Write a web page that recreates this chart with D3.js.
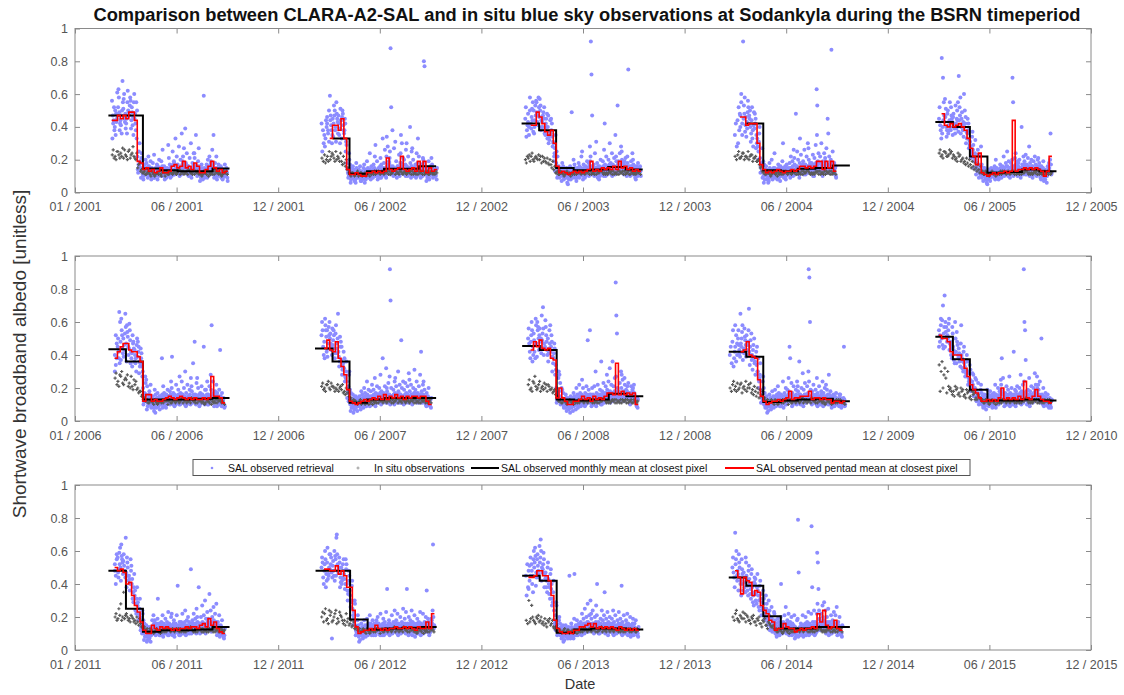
<!DOCTYPE html>
<html>
<head>
<meta charset="utf-8">
<script src="https://cdn.jsdelivr.net/npm/d3@7"></script>
<style>
  body { margin: 0; background: #fff; }
  svg { display: block; font-family: "Liberation Sans", Arial, Helvetica, sans-serif; }
</style>
</head>
<body>
<svg id="chart" width="1124" height="695"></svg>
<script>
// ---------------------------------------------------------------------------
// Sodankyla, BSRN period: CLARA-A2-SAL retrievals vs. in situ blue-sky albedo.
// All albedo values below are given in hundredths (45 -> 0.45).
// Pentad k of a year covers day-of-year 5k .. 5k+5 (k starts at 0).
// ---------------------------------------------------------------------------

const panelStartYears = [2001, 2006, 2011];
const seasonYears = [2001, 2002, 2003, 2004, 2005, 2006, 2007, 2008, 2009, 2010, 2011, 2012, 2013, 2014];

// SAL observed monthly mean at closest pixel (first month of each season, 1 = Jan)
const monthFirst = [3, 4, 3, 4, 3, 3, 3, 3, 3, 3, 3, 3, 3, 3];
const monthlyMeans = [
  [47, 47, 14.7, 13.5, 13, 13, 14.7],
  [33, 11.5, 13, 14.5, 14.5, 16],
  [42, 38, 15, 13.5, 14, 15.5, 14],
  [42, 13.5, 13, 14.5, 15, 16.5],
  [43, 40, 22, 12, 12.5, 14, 13],
  [43.5, 36, 13, 13, 13, 13.5, 14],
  [44, 36, 11, 13, 14, 14, 14],
  [45.5, 43, 13, 12.5, 13, 16.5, 15],
  [42, 39, 11.5, 12.5, 13, 13.5, 12],
  [51, 37.5, 19, 12.5, 12.5, 13, 12.5],
  [48, 25, 11, 12, 12, 12.5, 14],
  [48, 48, 18.5, 12.5, 13, 13.5, 14],
  [45, 42, 10.5, 12.5, 13, 13, 12.5],
  [44, 39, 20.5, 13, 13, 14, 14]
];

// SAL observed pentad mean at closest pixel (first pentad index of each season)
const pentadFirst = [13, 17, 15, 16, 14, 14, 15, 15, 16, 13, 14, 15, 14, 14];
const pentadMeans = [
  [44,44,47,45,47,45,49,49,44,19,18,14,15,13,14,12,13,15,12,12,13,16,17,15,16,19,15,16,14,18,16,12,12,14,16,19,15,13,14,12,13],
  [33,41,41,38,45,33,14,11,11,12,11,10,10,12,12,13,12,13,12,13,21,14,13,14,15,22,14,13,14,15,13,19,13,19,12,15,13,14],
  [41,41,49,46,42,37,35,38,30,16,12,13,12,11,12,13,12,13,12,13,14,19,13,14,13,15,14,15,14,16,14,19,15,16,14,15,13,14,13],
  [46,46,41,42,42,42,30,17,14,12,13,12,13,14,13,12,13,13,14,13,14,16,16,15,16,15,16,19,19,14,19,15,19,13],
  [48,41,40,42,40,41,42,40,38,33,27,22,17,24,12,11,10,11,12,11,12,12,13,12,13,44,13,14,14,15,14,15,14,15,14,13,10,13,22],
  [38,42,45,47,47,43,42,42,39,36,12,16,16,12,13,12,12,13,14,15,14,13,14,15,14,13,14,13,14,13,13,14,13,14,27,15,15,14,11],
  [44,49,43,42,48,38,33,28,19,12,11,10,11,12,13,12,13,14,13,15,13,16,13,15,14,16,14,15,13,15,14,15,15,14,15,15,12,10],
  [43,48,45,49,44,43,44,38,37,14,20,14,12,10,10,12,12,13,15,13,14,12,15,13,14,13,15,17,17,16,35,16,18,16,17,16,17,10],
  [42,43,48,40,39,38,25,15,12,10,11,12,12,13,12,13,14,18,13,14,14,15,15,15,18,13,14,14,13,14,13,13,11,12,12,11,12],
  [52,50,50,48,42,40,40,40,37,32,27,22,19,17,14,12,12,13,12,13,12,14,20,13,14,13,14,13,15,13,24,14,13,15,19,15,13,12,12,11],
  [50,48,49,47,40,41,33,27,23,17,12,10,10,15,13,12,14,13,14,13,12,13,12,13,13,14,13,14,14,13,15,16,14,19,15,17,13,11,10],
  [49,49,48,48,51,46,48,45,38,38,24,14,10,11,12,12,13,12,15,13,12,13,12,13,13,14,13,13,14,13,14,13,12,14,13,13,17,13,22],
  [44,44,45,48,48,45,45,42,33,18,13,11,10,10,11,10,12,12,14,14,15,16,14,16,13,14,13,14,13,14,13,12,14,13,12,13,12,13,12],
  [48,44,34,44,42,41,33,36,35,27,24,22,18,17,12,13,13,16,14,13,13,11,12,13,12,13,13,14,13,22,17,24,15,13,14,18,13,12]
];

// First pentad holding retrievals / in situ observations in each season
const scatterFirst = [13, 14, 13, 14, 13, 14, 14, 14, 12, 13, 14, 14, 13, 13];

// SAL observed retrievals, one string of values per pentad
const sal2001 = ["56 42 38 47 52 33 44","40 48 61 35 45 50 43","47 58 42 63 38 52 49","44 36 55 47 68 41 50","51 45 39 60 48 57 43","42 55 47 36 50 45 62","49 58 44 53 39 47 56","52 46 60 41 55 49 35","45 38 50 42 33 48 55","22 17 30 14 25 19 12 16","15 21 12 18 24 11 9 14","13 10 17 14 20 8 12 15 11","12 18 15 9 22 14 11 13 16","11 15 13 19 8 16 12 10 14","14 10 18 12 23 15 11 13 9","9 12 15 11 17 13 10 14 12","13 16 10 20 12 8 14 11 15","15 11 19 14 26 13 12 10 16","10 13 16 8 14 12 11 15 13","12 9 15 11 29 13 14 10 12","14 11 17 9 13 21 12 15 10","16 12 25 14 19 10 13 17 11","18 13 33 15 22 11 14 16 12","14 17 12 28 10 16 13 15 11","15 20 11 36 17 13 12 14 16","19 14 27 16 39 22 12 15 13","13 17 24 11 15 18 14 12 16","16 12 21 14 30 10 13 15 11","11 15 18 13 24 9 12 14 16","17 21 13 35 16 24 14 12 15","15 12 19 27 14 10 13 16 11","11 14 9 17 12 7 13 10 15","10 13 59 15 11 8 12 14 9","14 11 17 9 20 13 12 15 10","16 12 22 14 18 10 13 15 11","19 15 26 13 35 17 14 12 16","14 11 18 12 22 9 13 15 10","12 15 10 17 13 8 11 14 12","14 11 16 9 13 12 10 15 11","12 9 14 11 17 8 13 10 12","13 10 15 12 7 11 12 14 9"];
const sal2002 = ["42 30 38 25","35 44 28 40 33","46 38 31 42 36 50","59 41 35 47 30 44 38","45 53 38 42 50 34 47","40 48 36 55 43 31 45","47 39 44 35 51 42 30","44 50 38 46 41 33 48","36 42 29 45 31 38 25","18 12 24 15 9 20 14 11","10 13 8 15 11 17 6 12 9","12 9 14 7 11 16 10 13 11","8 12 15 10 13 6 18 11 9","11 14 9 16 7 12 10 13 12","10 13 8 12 15 7 11 9 12","9 12 14 8 11 17 6 10 13","13 10 15 9 12 19 11 14 12","11 14 8 16 10 24 12 13 9","12 9 17 13 22 10 14 11 15","14 10 12 19 8 29 11 13 12","10 15 13 9 21 12 11 14 16","12 17 10 33 14 9 13 11 15","15 11 26 13 9 18 12 14 10","22 16 28 13 19 34 15 12 17","18 25 88 52 14 21 11 16 13","13 16 10 27 12 38 15 11 14","14 11 19 9 16 31 12 13 15","16 12 23 10 18 14 13 11 15","24 18 30 15 21 35 12 16 14","15 20 11 17 26 13 12 14 10","12 16 10 22 14 30 13 11 15","14 11 18 9 25 13 40 12 16","16 12 20 10 15 27 13 11 14","13 17 9 24 12 15 11 14 10","18 14 22 11 16 33 13 15 12","14 11 17 13 21 9 12 15 10","20 80 77 15 12 18 13 11 16","11 15 9 13 19 7 12 14 10","14 10 16 12 21 8 13 11 15","12 15 9 13 10 17 11 14 12","13 10 15 11 8 12 14"];
const sal2003 = ["45 38 52 41 34","48 40 58 43 35 50","42 51 37 46 55 39 44","50 44 56 40 47 36 53","55 47 52 43 58 49 41","46 53 40 50 44 57 38","43 49 36 47 52 40 45","38 45 33 42 48 35 40","40 34 44 30 37 47 32","36 42 31 38 28 45 34","30 24 35 19 27 16 22 13","18 13 22 10 16 25 9 14 11","12 9 15 11 7 14 10 13 12","13 10 16 8 12 18 11 14 9","11 14 9 15 6 12 10 13 12","10 13 8 12 16 5 11 14 9","12 15 49 10 14 8 11 13 9","14 11 17 9 13 20 12 15 10","12 9 15 11 18 7 13 10 14","13 16 10 14 22 9 12 11 15","11 14 8 17 12 25 13 10 15","13 10 16 12 19 9 11 14 12","15 12 18 11 28 14 13 10 16","19 92 72 47 14 22 11 16 13","13 17 10 24 12 16 11 14 15","14 11 18 9 15 31 12 13 16","12 16 10 20 13 8 14 11 15","15 12 19 11 26 14 13 16 10","13 17 10 22 15 42 12 14 11","16 12 20 14 30 11 13 15 17","14 18 11 24 13 17 12 15 10","17 13 21 15 35 12 14 16 11","15 19 12 53 16 22 13 14 17","19 14 24 16 28 12 15 13 17","16 20 13 18 11 25 14 15 12","17 13 21 15 10 19 14 12 16","14 18 75 12 16 22 13 15 11","15 12 19 14 24 10 13 16 11","13 17 11 15 9 20 12 14 16","14 11 16 13 18 8 12 15 10","12 15 10 14 13 11 16"];
const sal2004 = ["35 28 42","44 38 30 48 52","40 55 35 47 60 42","92 48 41 53 37 45 58","46 39 52 43 56 34 49","42 50 36 45 31 47 40","44 38 49 33 41 52 28","39 45 30 42 35 48 27","33 25 40 20 36 28 31","21 15 27 12 18 9 16 13","14 10 17 8 12 19 6 13 11","11 14 8 12 6 16 10 13 12","12 9 15 10 13 7 18 11 14","10 13 8 14 11 20 12 9 15","12 15 9 13 10 24 11 14 12","14 11 17 9 13 8 12 15 10","12 16 10 14 19 7 13 11 15","11 14 9 13 16 30 12 10 15","13 10 17 12 15 8 14 11 12","14 11 18 9 22 13 12 15 10","15 12 19 10 26 14 13 16 11","13 17 11 48 15 21 14 12 16","16 12 20 14 9 25 13 15 11","18 14 23 12 17 33 15 13 16","15 19 11 26 16 13 14 17 12","17 13 22 15 30 11 14 16 12","16 20 12 18 14 27 15 13 17","14 18 11 23 15 12 16 13 10","17 21 13 29 16 10 15 14 18","63 53 19 24 14 35 17 15 13","18 22 14 30 16 12 15 17 13","15 19 12 24 17 10 14 16 13","21 16 27 13 45 19 15 17 12","17 14 22 12 19 36 15 13 16","20 87 15 25 12 18 14 16 13","14 18 11 16 9 13 12 15 10"];
const sal2005 = ["45 38 52 33 41","82 70 47 40 55 36 44","43 51 38 46 34 57 40","48 41 55 36 44 50 38","40 47 35 52 43 38 45","46 39 53 42 36 48 41","42 50 37 45 55 39 44","71 47 40 52 36 44 58","45 38 60 41 34 49 43","40 46 33 42 37 50 30","36 42 29 38 32 45 27","31 25 37 21 34 28 23","26 19 32 15 24 29 21","20 14 26 11 18 23 16 13","17 12 22 9 15 28 13 11","12 9 15 7 11 17 10 13 11","10 13 8 12 6 15 11 9 12","11 8 14 9 12 5 10 13 9","12 9 15 10 13 7 11 14 10","10 14 11 16 8 13 12 9 15","13 10 15 12 9 20 11 14 12","11 14 9 17 12 8 13 10 15","14 10 16 12 22 9 13 11 15","12 15 11 18 13 10 14 12 16","13 16 10 19 14 25 12 11 15","15 11 18 13 20 9 12 14 16","70 55 16 12 21 14 10 13 15","14 17 11 19 13 24 12 15 10","16 12 20 14 9 18 13 15 11","13 40 17 11 22 15 12 14 16","15 19 12 23 14 17 13 11 16","17 13 21 15 28 11 14 16 12","14 18 12 20 16 10 13 15 11","16 12 19 14 22 9 13 15 11","13 17 11 15 20 12 14 10 16","15 11 18 13 9 21 12 14 16","12 16 10 14 19 8 13 11 15","11 9 14 10 13 7 12 8 10","13 10 16 12 18 6 11 14 12","15 36 12 20 11 13 17"];
const sal2006 = ["40 34 47 30 52 38","45 38 60 42 35 50 66","48 55 41 62 44 37 52","50 43 57 46 65 39 53","47 54 40 58 45 36 51","44 49 38 55 42 59 35","41 47 36 52 44 33 48","43 38 50 35 46 40 30","39 45 33 42 36 48 29","35 41 30 38 27 44 33","20 14 27 10 17 23 12 15","16 12 21 9 14 25 7 11 13","14 18 11 22 8 16 12 10 15","12 9 15 11 6 14 10 13 8","13 10 16 8 12 19 5 11 14","11 14 9 13 7 17 12 10 15","12 15 10 38 8 13 11 14 16","14 11 17 9 13 21 12 15 10","13 16 10 19 12 8 14 11 15","15 12 18 11 24 14 13 10 16","14 39 11 17 13 20 12 15 10","12 16 10 22 14 9 13 11 15","15 12 19 13 27 11 14 16 10","13 17 11 24 15 10 12 14 16","16 12 20 14 30 11 13 15 10","13 17 10 22 15 9 12 14 11","15 12 19 13 26 11 14 16 10","14 18 11 35 16 21 13 12 15","13 48 16 10 23 14 12 15 11","15 12 20 14 9 26 13 11 16","13 17 11 21 15 10 12 14 16","16 12 45 14 19 11 13 15 10","14 19 11 24 15 12 13 16 10","16 12 21 14 28 10 13 15 11","19 58 14 24 16 12 13 15 17","15 11 18 13 22 9 12 14 16","13 17 11 15 19 9 12 14 10","12 43 15 10 17 13 11 14 9","11 14 9 13 8 12 10"];
const sal2007 = ["52 45 60 40 55","48 58 42 62 51 38 55","55 47 60 44 52 39 57","50 43 56 47 40 53 45","46 52 41 55 38 49 44","53 47 65 44 50 58 41","42 36 48 33 45 39 51","37 31 42 28 35 45 33","32 27 36 24 30 38 26","24 18 28 14 21 30 17 12","14 10 17 8 12 19 6 11 13","12 9 14 7 11 16 5 10 13","11 8 13 6 10 15 9 12 10","12 9 15 10 7 14 11 13 9","13 10 16 11 8 18 12 14 10","14 11 17 12 9 20 13 15 10","13 16 10 19 12 24 11 14 15","14 11 18 12 22 9 13 15 10","15 12 19 13 26 10 14 16 11","14 17 11 21 13 9 12 15 16","16 13 20 14 28 11 15 12 17","14 18 11 38 15 10 13 16 12","17 13 21 15 32 12 14 16 11","14 18 11 23 15 20 13 16 12","16 92 73 20 14 27 10 13 15","15 12 19 13 24 11 14 16 10","17 13 21 15 11 26 14 12 16","14 18 12 22 16 30 13 15 11","16 49 20 13 24 11 14 15 12","15 19 12 23 14 10 13 16 11","17 13 21 15 29 12 14 16 11","14 18 11 22 16 25 13 15 12","16 12 20 14 31 10 13 15 17","15 19 13 24 11 17 14 12 16","17 13 21 15 28 12 14 16 11","14 42 18 11 22 16 13 15 12","16 12 19 14 10 24 13 15 11","13 17 11 15 20 9 12 14 10","12 9 14 11 8 10 13"];
const sal2008 = ["50 42 56 38 47","48 55 40 60 45 52 36","53 46 58 42 62 49 38","47 55 43 60 50 39 57","52 45 64 48 41 56 50","49 56 44 69 47 53 40","45 52 40 57 43 61 48","50 44 58 41 47 36 55","42 48 35 52 39 45 30","38 44 31 47 34 41 28","20 14 26 11 17 30 13 16","18 23 13 28 10 20 15 12","14 10 17 8 12 19 11 13 9","11 8 14 6 12 9 16 10 13","9 12 7 11 5 14 10 8 13","10 13 8 12 6 15 11 9 14","12 9 15 11 7 17 10 13 14","13 10 16 8 12 20 11 14 9","14 11 17 9 13 22 12 15 10","16 12 20 14 10 25 13 15 11","13 17 10 21 15 9 12 14 16","15 11 19 13 55 49 12 14 16","12 16 9 20 14 11 13 10 15","16 12 21 14 30 10 13 15 11","13 17 11 22 15 9 14 12 16","15 11 19 14 36 12 13 16 10","14 18 12 23 16 10 15 13 17","16 12 21 15 28 11 14 17 13","19 14 24 17 32 12 15 16 13","18 13 22 16 36 11 15 17 14","17 21 14 26 15 12 16 18 13","84 64 53 20 16 27 13 15 18","18 14 23 16 30 12 15 17 13","20 15 25 17 12 28 16 14 18","17 22 13 19 15 26 16 14 18","18 14 23 16 11 21 15 17 13","17 13 21 15 19 10 16 14 12","18 14 22 16 12 20 15 17 13","11 9 13 10 8 12 14"];
const sal2009 = ["40 35 45","48 38 55 42 33","45 52 40 58 36 47","50 43 65 46 39 55 41","47 54 42 50 37 45 58","44 51 39 56 46 41 49","52 46 68 43 55 40 48","42 49 37 45 53 34 40","40 46 35 43 50 31 38","36 42 30 39 45 28 34","30 24 35 20 28 38 26","19 14 24 11 17 27 15 12","14 10 17 8 12 20 11 13 9","11 8 13 6 10 15 5 9 12","12 9 14 7 11 16 10 13 8","13 10 15 8 12 18 11 14 9","12 15 9 14 11 19 13 10 16","14 11 17 10 13 21 12 15 9","13 16 10 14 24 9 12 11 15","14 11 17 12 20 8 13 15 10","15 12 19 13 26 10 14 11 16","18 45 38 14 23 12 15 13 16","13 17 10 21 14 9 12 15 11","15 12 19 13 24 11 14 16 10","14 18 11 36 15 21 13 12 16","16 12 20 14 29 10 13 15 11","15 19 12 23 14 9 13 16 11","16 13 21 15 30 11 14 12 17","92 87 60 19 14 24 13 15 11","14 18 11 22 15 10 13 16 12","15 12 19 13 26 11 14 16 10","14 17 10 21 13 9 12 15 11","15 12 18 14 24 10 13 16 11","13 17 11 20 14 9 12 15 10","15 11 19 13 10 22 12 14 16","13 16 10 18 12 28 11 14 15","11 14 9 16 12 8 10 13 12","12 15 10 17 13 9 11 14 12","13 10 16 12 9 11 14","11 14 9 13 10 16 12 8 12","12 45 10 14 9 11 13"];
const sal2010 = ["55 48 62 45 52 58","50 70 57 46 53 61 44","76 54 48 60 51 45 57","52 59 47 55 43 50 62","48 44 53 40 57 46 38","45 41 50 37 60 43 35","42 48 38 54 40 35 46","44 39 58 36 47 41 33","40 36 45 32 42 38 30","35 31 40 27 37 33 29","30 26 34 22 29 36 24","25 21 29 18 24 31 20","22 18 26 15 20 28 17","19 15 23 12 17 25 14","16 12 19 10 14 22 13 11","13 10 15 8 12 17 11 14 9","12 9 14 7 11 16 10 13 12","14 11 16 9 13 19 12 15 10","12 15 10 14 8 18 11 13 16","14 11 17 12 22 9 13 15 10","12 16 10 14 20 8 11 13 15","15 12 18 13 25 10 14 16 11","22 38 17 26 14 19 13 16 12","14 11 17 13 21 9 12 15 10","15 12 19 14 27 10 13 16 11","13 17 11 20 15 9 12 14 16","15 12 42 14 19 10 13 16 11","14 18 11 21 15 9 13 16 12","16 13 20 15 28 11 14 12 17","14 18 12 22 15 10 13 16 11","92 60 55 37 18 24 15 13 17","15 12 19 14 26 10 13 16 11","14 18 11 21 15 9 12 16 13","16 13 20 15 29 11 14 17 12","18 22 15 27 16 13 14 17 20","15 19 12 24 14 22 13 16 11","13 50 16 11 20 14 12 15 10","12 15 10 17 13 9 11 14 12","13 10 16 12 8 14 11 9 12","11 9 13 10 12 14 8"];
const sal2011 = ["52 45 58 48 40 55","56 49 62 44 52 47 59","50 57 46 64 53 42 55","54 48 68 51 44 58 47","47 53 42 56 45 38 50","45 40 51 36 48 43 55","40 35 46 31 38 43 29","33 28 38 24 31 36 22","27 22 31 18 25 29 20","20 15 24 12 18 22 14 10","13 10 16 8 12 18 6 11 14","11 8 13 6 10 15 5 9 12","10 7 12 5 9 14 8 11 10","14 18 11 21 16 13 12 15 10","12 15 9 14 11 18 13 10 16","13 31 10 16 12 19 11 14 9","14 11 17 13 21 9 12 15 10","12 16 10 14 19 8 13 11 15","14 11 17 12 23 10 13 15 9","13 16 10 15 20 9 12 14 11","12 15 9 14 18 22 11 13 16","13 10 16 12 21 8 14 11 15","12 39 15 10 17 13 11 14 9","14 11 17 13 22 9 12 15 10","13 16 10 15 24 11 12 14 17","14 11 18 12 20 9 13 15 10","13 17 10 15 49 12 14 11 16","14 11 18 13 22 10 12 15 16","15 12 19 14 25 11 13 16 10","14 17 11 38 15 20 13 12 16","16 12 20 14 27 10 13 15 11","17 13 21 15 30 11 14 16 12","15 19 12 23 16 10 14 13 17","19 15 34 17 24 13 14 16 12","16 12 20 14 26 11 13 15 17","18 14 22 16 28 12 15 13 17","14 11 17 13 21 9 12 15 10","12 9 15 11 18 8 10 13 11","11 8 13 10 9 12 7"];
const sal2012 = ["50 44 56 40 53","48 55 42 60 46 52 38","53 46 58 43 50 62 45","49 56 44 52 7 58 47","51 45 57 48 42 54 60","55 70 48 68 52 45 58","47 53 41 56 44 50 38","50 44 55 42 48 40 52","46 40 52 37 49 43 55","40 34 45 30 42 36 48","36 30 42 26 39 33 29","25 19 30 15 23 28 21 17","15 11 18 9 14 21 12 10","11 8 13 6 10 15 5 9 12","12 9 14 7 11 16 10 13 8","13 10 15 8 12 18 11 14 9","12 15 9 14 11 19 13 10 16","14 11 16 10 13 21 12 15 9","12 15 9 14 11 18 13 10 16","15 12 18 13 20 9 14 11 16","13 16 10 14 22 11 12 15 9","12 15 9 13 19 10 14 11 16","14 11 17 12 23 9 13 15 10","12 37 15 10 18 13 14 11 16","13 16 10 15 21 9 12 14 11","14 11 17 12 24 10 13 15 16","15 12 18 14 22 11 13 16 10","13 16 10 15 20 9 12 14 11","14 11 17 12 25 10 13 15 16","15 12 19 14 23 11 13 16 10","13 37 16 11 20 14 12 15 9","15 12 18 14 24 10 13 16 11","14 17 11 15 21 9 12 13 16","12 15 10 14 19 8 13 11 16","14 11 17 13 23 10 12 15 16","13 16 10 15 22 9 12 14 11","14 11 17 12 20 10 13 15 16","16 36 13 19 15 11 14 12 17","13 10 16 12 19 9 14 11 15","18 64 15 24 13 16 20"];
const sal2013 = ["45 38 52 33","48 42 56 37 51 45","52 45 60 40 55 48 35","50 57 44 62 47 53 39","55 48 63 51 44 58 46","53 60 47 67 50 56 42","49 55 43 59 46 52 38","47 42 53 38 50 44 35","43 38 49 34 46 40 31","37 31 42 27 35 40 29","24 18 29 14 21 27 16 12","15 11 18 9 13 20 12 10","12 9 14 7 11 16 10 13 8","11 8 13 6 10 15 5 9 12","10 13 8 12 7 15 11 9 12","12 9 45 8 11 14 10 13 7","11 14 9 13 7 16 10 12 8","13 46 10 15 12 19 11 14 9","12 15 9 14 11 18 13 10 16","14 11 17 13 22 10 12 15 9","15 12 19 14 25 11 13 16 10","16 13 20 15 28 12 14 11 17","17 13 21 15 30 11 14 16 12","15 19 12 24 14 22 13 16 11","16 12 20 14 27 10 13 15 17","14 40 11 17 13 21 12 15 10","15 12 19 14 24 10 13 16 11","14 18 11 21 35 13 12 15 16","15 12 19 13 23 10 14 11 16","14 17 11 20 15 9 12 13 16","15 12 19 14 24 11 13 16 10","13 17 10 21 14 9 12 15 11","14 11 18 13 23 10 12 15 16","15 12 19 14 39 11 13 16 10","13 17 10 21 14 9 12 15 11","14 11 18 13 22 10 12 15 16","13 16 10 15 20 9 12 14 11","12 15 9 14 19 8 13 11 16","13 10 16 12 18 9 14 11 12","12 9 14 11 8 13 10"];
const sal2014 = ["50 44 56 38 47","71 60 48 55 42 52 45","46 53 40 58 44 36 50","42 49 36 55 40 33 46","47 41 53 38 56 44 35","45 39 51 36 48 42 33","43 37 49 34 46 40 31","38 33 44 29 41 35 27","40 34 46 30 38 43 28","36 30 42 26 39 33 24","31 26 36 21 29 34 24","28 22 33 18 25 31 20","25 19 30 15 23 28 17","21 16 26 12 19 24 14","19 14 23 11 17 22 13 15","13 10 16 8 12 18 11 14 9","14 11 17 9 13 19 12 15 10","13 40 16 10 15 20 12 14 11","17 13 21 15 26 11 14 16 12","15 12 18 13 22 10 14 16 11","14 11 17 12 20 9 13 15 10","13 16 10 15 21 9 12 14 11","11 14 8 13 18 7 10 12 9","12 79 47 9 14 19 8 11 13","13 16 10 15 21 9 12 14 11","12 15 9 14 20 8 13 11 16","14 11 17 13 23 9 12 15 10","13 16 10 15 22 9 12 14 11","75 38 17 12 24 14 10 13 15","13 17 10 15 22 9 12 14 11","59 53 37 24 16 28 12 15 19","18 14 22 16 27 12 15 17 13","20 15 29 17 24 13 16 18 14","16 12 20 14 25 10 13 15 17","14 11 17 13 21 9 12 15 10","15 12 18 14 23 10 13 16 11","17 13 21 15 26 11 14 16 12","14 11 17 12 20 9 13 15 10","12 9 15 11 8 13 10"];

// In situ blue-sky observations, one string of values per pentad
const obs2001 = ["23 21 26","22 25 20","25 21 23","24 27 22","21 23 26","22 25 20","26 23 21","24 22 28","21 24 20","15 18 17","13 12 14","12 11 13","11 13 12","12 10 11","13 11 12","10 12 11","12 13 11","11 12 10","13 10 12","12 11 13","11 13 12","12 12 11","13 11 12","12 14 13","11 12 13","13 12 11","12 11 13","14 12 13","12 13 11","11 12 13","13 11 12","12 10 11","11 12 13","12 13 11","10 11 12","12 13 11","11 12 13","13 11 12","12 10 11","11 12 13","12 11 13"];
const obs2002 = ["21 19","23 20 18","22 25 19","20 24 22","23 19 21","25 22 20","21 24 19","19 22 17","18 20 16","14 12 15","11 12 10","12 10 11","11 13 12","10 12 11","12 11 10","11 10 12","12 12 11","10 11 12","12 13 11","11 12 13","13 11 12","12 12 13","11 13 12","12 11 13","13 12 11","12 14 13","11 12 13","12 13 11","13 11 12","12 12 13","11 13 12","12 11 13","13 12 11","12 13 11","11 12 13","12 11 13","13 12 11","12 11 13","11 13 12","12 12 11","11 12 13"];
const obs2003 = ["20 22 18","21 19 23","22 20 24","19 22 21","21 23 20","20 18 22","22 21 19","19 21 18","18 20 17","17 19 15","14 12 16","12 11 13","11 12 13","12 10 11","11 13 12","12 12 11","10 11 12","12 13 11","11 12 13","13 11 12","12 12 13","11 13 12","12 11 13","13 12 11","12 13 11","11 12 13","12 14 13","13 11 12","12 12 11","11 13 12","12 11 13","13 12 11","12 13 11","11 12 13","12 11 13","13 12 11","12 11 13","11 12 13","12 12 11","11 13 12","12 11 13"];
const obs2004 = ["22 20","23 21 25","21 24 22","24 22 20","22 25 21","20 23 22","23 21 19","21 19 22","19 17 20","15 13 16","12 11 13","11 12 13","12 10 11","11 13 12","12 12 11","10 11 12","12 13 11","11 12 13","13 11 12","12 12 13","11 13 12","12 11 13","13 12 11","12 13 11","11 12 13","12 14 13","13 11 12","12 12 11","11 13 12","12 11 13","13 12 11","12 13 11","11 12 13","12 11 13","13 12 11","12 11 13"];
const obs2005 = ["24 22 26","23 25 21","25 22 24","22 26 23","24 21 25","23 20 22","21 24 19","22 19 23","20 18 21","19 21 17","18 20 16","17 19 15","16 18 14","15 17 13","14 16 12","12 11 13","11 12 13","12 10 11","11 13 12","12 12 11","10 11 12","12 13 11","11 12 13","13 11 12","12 12 13","11 13 12","12 11 13","13 12 11","12 13 11","11 12 13","12 14 13","13 11 12","12 12 11","11 13 12","12 11 13","13 12 11","12 13 11","11 12 13","12 11 13","13 12 11"];
const obs2006 = ["26 22 29","24 28 21","27 23 30","22 26 25","25 21 28","23 27 20","21 25 19","22 19 24","20 18 17","18 16 15","13 12 14","12 11 13","11 13 12","12 10 11","13 11 12","10 12 11","12 13 11","11 12 13","13 10 12","12 11 13","11 13 12","12 12 11","13 11 12","12 14 13","11 12 13","13 12 11","12 11 13","14 12 13","12 13 11","11 12 13","13 11 12","12 10 11","11 12 13","12 13 11","10 11 12","12 13 11","11 12 13","13 11 12","12 10 11"];
const obs2007 = ["21 19 23","20 22 18","22 20 24","19 21 23","21 18 20","20 22 19","18 21 20","19 17 22","18 20 16","17 15 19","13 12 14","11 12 13","12 10 11","11 13 12","10 12 11","12 11 10","11 10 12","12 12 11","10 11 12","12 13 11","11 12 13","13 11 12","12 12 13","11 13 12","12 11 13","13 12 11","12 14 13","11 12 13","12 13 11","13 11 12","12 12 13","11 13 12","12 11 13","13 12 11","12 13 11","11 12 13","12 11 13","13 12 11","12 11 13"];
const obs2008 = ["22 19 25","20 24 18","23 21 27","19 22 20","24 20 18","21 23 19","20 18 22","22 19 21","19 17 20","18 16 19","14 12 15","12 11 13","11 12 13","12 10 11","11 13 12","12 12 11","10 11 12","12 13 11","11 12 13","13 11 12","12 12 13","11 13 12","12 11 13","13 12 11","12 13 11","11 12 13","12 14 13","13 11 12","12 12 11","11 13 12","12 11 13","13 12 11","12 13 11","11 12 13","12 11 13","13 12 11","12 11 13","11 12 13","12 12 11"];
const obs2009 = ["20 18","22 19 24","21 23 18","19 22 20","23 20 17","21 24 19","18 22 20","20 17 23","19 21 16","18 20 15","17 19 14","16 18 15","13 12 14","12 11 13","11 13 12","12 10 11","13 11 12","10 12 11","12 13 11","11 12 13","13 10 12","12 11 13","11 13 12","12 12 11","13 11 12","12 14 13","11 12 13","13 12 11","12 11 13","14 12 13","12 13 11","11 12 13","13 11 12","12 10 11","11 12 13","12 13 11","10 11 12","12 13 11","11 12 13","13 11 12","12 10 11"];
const obs2010 = ["34 30 18","36 28 20","32 17 26","30 19 21","20 16 18","18 21 15","19 16 20","17 20 15","18 15 19","16 19 14","17 14 18","15 18 13","16 13 17","14 16 13","15 13 14","12 11 13","11 12 13","12 10 11","11 13 12","12 12 11","10 11 12","12 13 11","11 12 13","13 11 12","12 12 13","11 13 12","12 11 13","13 12 11","12 13 11","11 12 13","12 14 13","13 11 12","12 12 11","11 13 12","12 11 13","13 12 11","12 13 11","11 12 13","12 11 13","13 12 11"];
const obs2011 = ["20 18 22","19 21 25","28 20 18","35 21 19","22 18 20","19 21 17","20 17 19","18 20 16","17 19 15","16 18 14","13 12 14","12 11 13","11 12 13","12 10 11","11 13 12","12 12 11","10 11 12","12 13 11","11 12 13","13 11 12","12 12 13","11 13 12","12 11 13","13 12 11","12 13 11","11 12 13","12 14 13","13 11 12","12 12 11","11 13 12","12 11 13","13 12 11","12 13 11","11 12 13","12 11 13","13 12 11","12 11 13","11 12 13","12 12 11"];
const obs2012 = ["20 17 23","22 18 25","19 24 16","21 17 23","18 22 20","24 19 16","17 21 23","20 16 18","18 22 15","17 15 19","16 14 18","15 13 17","13 12 14","12 11 13","11 13 12","12 10 11","13 11 12","10 12 11","12 13 11","11 12 13","13 10 12","12 11 13","11 13 12","12 12 11","13 11 12","12 14 13","11 12 13","13 12 11","12 11 13","14 12 13","12 13 11","11 12 13","13 11 12","12 10 11","11 12 13","12 13 11","10 11 12","12 13 11","11 12 13","13 11 12"];
const obs2013 = ["18 16","30 19 17","27 18 20","17 20 16","19 17 21","18 16 20","17 19 15","16 18 14","17 15 19","16 14 18","13 12 14","11 12 13","12 10 11","11 13 12","10 12 11","12 11 10","11 10 12","12 12 11","10 11 12","12 13 11","11 12 13","13 11 12","12 12 13","11 13 12","12 11 13","13 12 11","12 14 13","11 12 13","12 13 11","13 11 12","12 12 13","11 13 12","12 11 13","13 12 11","12 13 11","11 12 13","12 11 13","13 12 11","12 11 13","11 12 13"];
const obs2014 = ["20 18","22 19 24","18 21 17","20 23 19","19 17 22","21 18 20","18 20 16","19 17 21","17 19 15","18 16 20","16 18 14","17 15 19","15 17 13","16 14 15","14 13 15","12 11 13","11 12 13","12 10 11","11 13 12","12 12 11","10 11 12","12 13 11","11 12 13","13 11 12","12 12 13","11 13 12","12 11 13","13 12 11","12 13 11","11 12 13","12 14 13","13 11 12","12 12 11","11 13 12","12 11 13","13 12 11","12 13 11","11 12 13","12 11 13"];

const retrievals = [sal2001, sal2002, sal2003, sal2004, sal2005, sal2006, sal2007, sal2008, sal2009, sal2010, sal2011, sal2012, sal2013, sal2014];
const insitu = [obs2001, obs2002, obs2003, obs2004, obs2005, obs2006, obs2007, obs2008, obs2009, obs2010, obs2011, obs2012, obs2013, obs2014];

const yTicks = [0, 0.2, 0.4, 0.6, 0.8, 1];
const legendLabels = [
  "SAL observed retrieval",
  "In situ observations",
  "SAL observed monthly mean at closest pixel",
  "SAL observed pentad mean at closest pixel"
];

// ---------------------------------------------------------------------------
const COL_SAL = "#8c8cff";
const COL_OBS = "#5a5a5a";
const COL_FRAME = "#8a8a8a";
const COL_TICKTEXT = "#555";
const DAY = 864e5;

const svg = d3.select("#chart");
const plotLeft = 75, plotRight = 1091;
const panelBoxes = [
  { top: 28.5, bottom: 192.5 },
  { top: 256, bottom: 421 },
  { top: 485, bottom: 650 }
];

const dayOf = (year, doy) => new Date(Date.UTC(year, 0, 1) + doy * DAY);

// Observations of a pentad are spread over its five days; the order of the
// x slots is stepped so that consecutive values do not sit side by side.
function scatterPoints(groups, year, first) {
  const pts = [];
  groups.forEach((g, k) => {
    const vals = g.trim().split(/\s+/).map(Number);
    const n = vals.length;
    const step = n % 3 === 0 ? 2 : 3;
    const p = first + k;
    vals.forEach((v, j) => {
      const slot = (j * step) % n;
      pts.push({ t: dayOf(year, 5 * p + (slot + 0.5) * 5 / n), v: v / 100 });
    });
  });
  return pts;
}

function pentadSteps(vals, year, first) {
  const pts = vals.map((v, k) => ({ t: dayOf(year, 5 * (first + k)), v: v / 100 }));
  pts.push({ t: dayOf(year, 5 * (first + vals.length)), v: vals[vals.length - 1] / 100 });
  return pts;
}

function monthlySteps(vals, year, firstMonth) {
  const pts = vals.map((v, k) => ({ t: new Date(Date.UTC(year, firstMonth - 1 + k, 1)), v: v / 100 }));
  pts.push({ t: new Date(Date.UTC(year, firstMonth - 1 + vals.length, 1)), v: vals[vals.length - 1] / 100 });
  return pts;
}

// Title
svg.append("text")
  .attr("x", 587).attr("y", 20.5)
  .attr("text-anchor", "middle")
  .attr("font-size", 18.3).attr("font-weight", "bold").attr("fill", "#111")
  .text("Comparison between CLARA-A2-SAL and in situ blue sky observations at Sodankyla during the BSRN timeperiod");

panelStartYears.forEach((y0, pi) => {
  const box = panelBoxes[pi];
  const t0 = Date.UTC(y0, 0, 1), t1 = Date.UTC(y0 + 4, 11, 1);
  const x = d3.scaleUtc().domain([new Date(t0), new Date(t1)]).range([plotLeft, plotRight]);
  const y = d3.scaleLinear().domain([0, 1]).range([box.bottom, box.top]);
  const xTicks = d3.range(11).map(i => new Date(t0 + i * (t1 - t0) / 10));

  const g = svg.append("g");
  const clipId = "clip" + pi;
  g.append("clipPath").attr("id", clipId)
    .append("rect").attr("x", plotLeft).attr("y", box.top)
    .attr("width", plotRight - plotLeft).attr("height", box.bottom - box.top);

  const plot = g.append("g").attr("clip-path", `url(#${clipId})`);

  const seasons = seasonYears.map((yr, i) => i).filter(i => seasonYears[i] >= y0 && seasonYears[i] < y0 + 5);

  // retrievals
  seasons.forEach(i => {
    const pts = scatterPoints(retrievals[i], seasonYears[i], scatterFirst[i]);
    plot.append("g").selectAll("circle").data(pts).join("circle")
      .attr("cx", d => x(d.t)).attr("cy", d => y(d.v)).attr("r", 2.0)
      .attr("fill", COL_SAL);
  });
  // in situ observations
  seasons.forEach(i => {
    const pts = scatterPoints(insitu[i], seasonYears[i], scatterFirst[i]);
    plot.append("g").selectAll("path").data(pts).join("path")
      .attr("d", d => { const cx = x(d.t), cy = y(d.v), s = 1.6;
        return `M${cx - s},${cy}H${cx + s}M${cx},${cy - s}V${cy + s}`; })
      .attr("stroke", COL_OBS).attr("stroke-width", 1.2).attr("fill", "none");
  });

  const line = d3.line().x(d => x(d.t)).y(d => y(d.v)).curve(d3.curveStepAfter);
  // monthly means
  seasons.forEach(i => {
    plot.append("path")
      .attr("d", line(monthlySteps(monthlyMeans[i], seasonYears[i], monthFirst[i])))
      .attr("fill", "none").attr("stroke", "#000").attr("stroke-width", 2);
  });
  // pentad means
  seasons.forEach(i => {
    plot.append("path")
      .attr("d", line(pentadSteps(pentadMeans[i], seasonYears[i], pentadFirst[i])))
      .attr("fill", "none").attr("stroke", "#ff0000").attr("stroke-width", 1.6);
  });

  // frame
  g.append("rect").attr("x", plotLeft).attr("y", box.top)
    .attr("width", plotRight - plotLeft).attr("height", box.bottom - box.top)
    .attr("fill", "none").attr("stroke", COL_FRAME).attr("stroke-width", 1);

  const styleAxis = sel => {
    sel.select(".domain").remove();
    sel.selectAll(".tick line").attr("stroke", COL_FRAME);
    sel.selectAll(".tick text").attr("fill", COL_TICKTEXT)
      .attr("font-size", 12.5).attr("font-family", "'Liberation Sans', Arial, sans-serif");
  };

  g.append("g").attr("transform", `translate(0,${box.bottom})`)
    .call(d3.axisBottom(x).tickValues(xTicks).tickFormat(d3.utcFormat("%m / %Y"))
      .tickSizeInner(-5).tickSizeOuter(0).tickPadding(10))
    .call(styleAxis);
  g.append("g").attr("transform", `translate(0,${box.top})`)
    .call(d3.axisTop(x).tickValues(xTicks).tickFormat("").tickSizeInner(-5).tickSizeOuter(0))
    .call(styleAxis);
  g.append("g").attr("transform", `translate(${plotLeft},0)`)
    .call(d3.axisLeft(y).tickValues(yTicks).tickFormat(d3.format("~g"))
      .tickSizeInner(-5).tickSizeOuter(0).tickPadding(7))
    .call(styleAxis);
  g.append("g").attr("transform", `translate(${plotRight},0)`)
    .call(d3.axisRight(y).tickValues(yTicks).tickFormat("").tickSizeInner(-5).tickSizeOuter(0))
    .call(styleAxis);
});

// Axis titles
svg.append("text")
  .attr("transform", "translate(26,354) rotate(-90)")
  .attr("text-anchor", "middle").attr("font-size", 19).attr("fill", "#333")
  .text("Shortwave broadband albedo [unitless]");
svg.append("text")
  .attr("x", 580).attr("y", 689).attr("text-anchor", "middle")
  .attr("font-size", 14.5).attr("fill", "#333")
  .text("Date");

// Legend
const lg = svg.append("g");
lg.append("rect").attr("x", 193).attr("y", 459.5).attr("width", 777).attr("height", 16)
  .attr("fill", "#fff").attr("stroke", "#555").attr("stroke-width", 1);
const ly = 468;
lg.append("circle").attr("cx", 212).attr("cy", ly).attr("r", 1.3).attr("fill", COL_SAL);
lg.append("path").attr("d", `M356.5,${ly}H359.5M358,${ly - 1.5}V${ly + 1.5}`)
  .attr("stroke", "#999").attr("stroke-width", 1);
lg.append("line").attr("x1", 471).attr("x2", 499).attr("y1", ly).attr("y2", ly)
  .attr("stroke", "#000").attr("stroke-width", 2);
lg.append("line").attr("x1", 725).attr("x2", 754).attr("y1", ly).attr("y2", ly)
  .attr("stroke", "#ff0000").attr("stroke-width", 2);
const labelX = [228, 374, 501, 756];
legendLabels.forEach((t, i) => {
  lg.append("text").attr("x", labelX[i]).attr("y", ly + 3.7)
    .attr("font-size", 10.5).attr("fill", "#111").text(t);
});
</script>
</body>
</html>
